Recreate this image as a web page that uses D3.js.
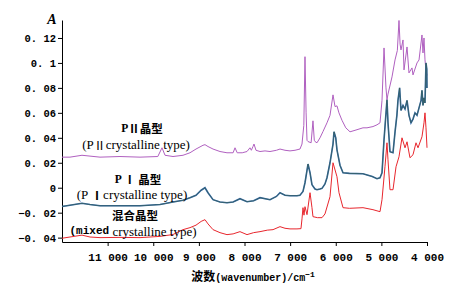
<!DOCTYPE html>
<html>
<head>
<meta charset="utf-8">
<script src="https://cdn.jsdelivr.net/npm/d3@7"></script>
<style>
  body { margin: 0; background: #fff; }
  .axis path, .axis line { stroke: #000; stroke-width: 1; }
  .axis text { font-family: "Liberation Mono", monospace; font-weight: bold; font-size: 11px; fill: #000; }
  .y.axis text { font-size: 10.5px; }
</style>
</head>
<body>
<div id="chart"></div>
<script>
// tick values
var xTicks = [11000, 10000, 9000, 8000, 7000, 6000, 5000, 4000];
var yTicks = [-0.04, -0.02, 0, 0.02, 0.04, 0.06, 0.08, 0.1, 0.12];

// P II crystalline type (purple)
var piiWavenumber = [12000, 11825, 11562, 11167, 10729, 10290, 9900, 9808, 9742, 9567, 9348, 9195, 9063, 8910, 8866, 8800, 8690, 8537, 8384, 8250, 8208, 8160, 8050, 7945, 7880, 7850, 7814, 7792, 7748, 7660, 7551, 7441, 7300, 7222, 7112, 7003, 6893, 6784, 6740, 6700, 6674, 6650, 6630, 6608, 6540, 6499, 6470, 6455, 6411, 6345, 6280, 6192, 6126, 6060, 6016, 5973, 5930, 5863, 5780, 5688, 5578, 5403, 5315, 5184, 5096, 5030, 4986, 4942, 4899, 4877, 4855, 4767, 4701, 4650, 4614, 4590, 4570, 4526, 4504, 4438, 4395, 4329, 4307, 4219, 4175, 4110, 4088, 4066, 4044, 4022, 4000];
var piiAbsorbance = [0.0245, 0.0245, 0.026, 0.0245, 0.025, 0.0245, 0.025, 0.032, 0.026, 0.025, 0.026, 0.028, 0.031, 0.034, 0.0345, 0.033, 0.031, 0.029, 0.028, 0.028, 0.032, 0.028, 0.028, 0.029, 0.032, 0.030, 0.033, 0.035, 0.030, 0.029, 0.0295, 0.029, 0.030, 0.031, 0.030, 0.0295, 0.030, 0.031, 0.035, 0.05, 0.105, 0.06, 0.038, 0.037, 0.036, 0.0536, 0.038, 0.037, 0.036, 0.040, 0.045, 0.052, 0.058, 0.0744, 0.065, 0.0656, 0.060, 0.054, 0.048, 0.0448, 0.046, 0.048, 0.048, 0.049, 0.0504, 0.052, 0.07, 0.112, 0.08, 0.0704, 0.075, 0.0888, 0.1024, 0.11, 0.134, 0.115, 0.1104, 0.1184, 0.0944, 0.1128, 0.092, 0.096, 0.0904, 0.1, 0.1024, 0.1224, 0.108, 0.12, 0.1024, 0.094, 0.09];

// P I crystalline type (blue / green)
var piWavenumber = [12000, 11825, 11562, 11386, 11167, 10729, 10290, 9852, 9567, 9348, 9195, 9063, 8950, 8866, 8800, 8690, 8537, 8384, 8250, 8099, 7945, 7800, 7660, 7441, 7300, 7222, 7112, 7003, 6850, 6784, 6718, 6674, 6608, 6564, 6521, 6455, 6411, 6345, 6301, 6236, 6192, 6126, 6060, 6038, 6000, 5973, 5907, 5841, 5700, 5403, 5200, 5096, 5030, 4986, 4942, 4877, 4855, 4811, 4745, 4700, 4660, 4636, 4600, 4570, 4526, 4482, 4438, 4395, 4351, 4307, 4263, 4219, 4175, 4130, 4110, 4088, 4066, 4044, 4022, 4005, 4000];
var piAbsorbance = [-0.015, -0.014, -0.0125, -0.0135, -0.0145, -0.0145, -0.0145, -0.0135, -0.0115, -0.010, -0.008, -0.006, -0.002, 0.000, -0.004, -0.0096, -0.0115, -0.012, -0.0115, -0.0088, -0.0112, -0.0105, -0.008, -0.0096, -0.007, -0.004, -0.006, -0.0064, -0.0064, -0.006, -0.003, 0.004, 0.019, 0.012, 0.0024, -0.001, -0.0016, -0.001, -0.0005, 0.003, 0.008, 0.02, 0.035, 0.0448, 0.04, 0.0304, 0.018, 0.012, 0.0115, 0.0112, 0.009, 0.0072, 0.008, 0.012, 0.0384, 0.0704, 0.052, 0.0288, 0.028, 0.045, 0.058, 0.07, 0.08, 0.062, 0.066, 0.063, 0.07, 0.058, 0.052, 0.055, 0.06, 0.058, 0.064, 0.07, 0.078, 0.066, 0.072, 0.068, 0.1, 0.095, 0.08];

// mixed crystalline type (red)
var mixWavenumber = [12000, 11825, 11562, 11386, 11167, 10729, 10290, 9852, 9567, 9348, 9195, 9063, 8950, 8866, 8800, 8690, 8537, 8384, 8250, 8099, 7945, 7800, 7660, 7500, 7375, 7222, 7112, 7003, 6850, 6762, 6740, 6718, 6696, 6674, 6630, 6564, 6521, 6499, 6400, 6301, 6236, 6126, 6060, 5973, 5929, 5841, 5700, 5403, 5184, 5030, 4986, 4921, 4877, 4855, 4811, 4745, 4679, 4614, 4548, 4482, 4438, 4373, 4307, 4241, 4197, 4110, 4066, 4044, 4022, 4000];
var mixAbsorbance = [-0.0405, -0.0395, -0.038, -0.0395, -0.040, -0.0398, -0.040, -0.039, -0.0375, -0.0336, -0.032, -0.030, -0.027, -0.0256, -0.029, -0.0336, -0.036, -0.0376, -0.037, -0.0352, -0.0376, -0.036, -0.0352, -0.034, -0.0336, -0.0312, -0.0325, -0.033, -0.033, -0.0328, -0.025, -0.016, -0.022, -0.0152, -0.0216, -0.004, -0.016, -0.0232, -0.024, -0.024, -0.021, -0.0072, 0.02, 0.0088, -0.004, -0.016, -0.0165, -0.016, -0.0176, -0.0192, -0.0096, 0.0168, 0.036, 0.0224, -0.0016, -0.0016, 0.0168, 0.0248, 0.04, 0.032, 0.0368, 0.024, 0.0264, 0.036, 0.032, 0.0408, 0.052, 0.06, 0.048, 0.032];

var W = 463, H = 287;
var margin = {top: 20, right: 36, bottom: 45, left: 62};

var svg = d3.select("#chart").append("svg")
    .attr("width", W)
    .attr("height", H);

var x = d3.scaleLinear().domain([12000, 4000]).range([margin.left, W - margin.right]);
var y = d3.scaleLinear().domain([-0.0435, 0.1344]).range([H - margin.bottom, margin.top]);

var loc = d3.formatLocale({decimal: ".", thousands: " ", grouping: [3], currency: ["", ""], minus: "\u2212"});
var xFmt = loc.format(",d");
var yFmt = function(v) {
    if (v === 0) return "0";
    return d3.format(".2~f")(v).replace("-", "\u2212").replace(".", ". ");
};

// axes
svg.append("g")
    .attr("class", "x axis")
    .attr("transform", "translate(0," + (H - margin.bottom) + ")")
    .call(d3.axisBottom(x).tickValues(xTicks).tickFormat(xFmt).tickSize(4).tickSizeOuter(0).tickPadding(7));

svg.append("g")
    .attr("class", "y axis")
    .attr("transform", "translate(" + margin.left + ",0)")
    .call(d3.axisLeft(y).tickValues(yTicks).tickFormat(yFmt).tickSize(4).tickSizeOuter(0).tickPadding(2));

// curves
function series(wn, ab) {
    return wn.map(function(d, i) { return [d, ab[i]]; });
}
var line = d3.line()
    .x(function(d) { return x(d[0]); })
    .y(function(d) { return y(d[1]); });

svg.append("path").datum(series(piiWavenumber, piiAbsorbance))
    .attr("d", line).attr("fill", "none").attr("stroke", "#b060c0").attr("stroke-width", 1);

svg.append("path").datum(series(piWavenumber, piAbsorbance))
    .attr("d", line).attr("fill", "none").attr("stroke", "#2f66a8").attr("stroke-width", 1.6);
svg.append("path").datum(series(piWavenumber, piAbsorbance))
    .attr("d", line).attr("fill", "none").attr("stroke", "#3d5e3a").attr("stroke-width", 0.7).attr("opacity", 0.75);

svg.append("path").datum(series(mixWavenumber, mixAbsorbance))
    .attr("d", line).attr("fill", "none").attr("stroke", "#e8262d").attr("stroke-width", 1);

// labels
var cjk = "'Noto Sans CJK SC',sans-serif";
var serif = "'Liberation Serif',serif";
var mono = "'Liberation Mono',monospace";

function label(cx, cy, bold, size) {
    return svg.append("text")
        .attr("x", cx).attr("y", cy)
        .attr("text-anchor", "middle")
        .attr("dominant-baseline", "central")
        .style("font-family", serif)
        .style("font-size", size + "px")
        .style("font-weight", bold ? "bold" : "normal");
}

var a = label(142, 128, true, 11.5);
a.append("tspan").text("P");
a.append("tspan").style("font-family", cjk).text("\u2161晶型");

var b = label(136, 144, false, 13);
b.append("tspan").text("(P");
b.append("tspan").style("font-family", cjk).style("font-size", "12px").text("\u2161");
b.append("tspan").text("crystalline type)");

var c = label(138, 179, true, 11.5);
c.append("tspan").text("P ");
c.append("tspan").style("font-family", cjk).text("\u2160 晶型");

var d = label(132, 194, false, 13);
d.append("tspan").text("(P ");
d.append("tspan").style("font-family", cjk).style("font-weight", "bold").style("font-size", "12px").text("\u2160");
d.append("tspan").text("crystalline type)");

var e = label(135, 215, true, 11.5);
e.append("tspan").style("font-family", cjk).text("混合晶型");

var f = label(133, 231, false, 13);
f.append("tspan").style("font-family", mono).style("font-weight", "bold").style("font-size", "11px").text("(mixed");
f.append("tspan").text(" crystalline type)");

// axis titles
svg.append("text")
    .attr("x", 52).attr("y", 19)
    .attr("text-anchor", "middle")
    .attr("dominant-baseline", "central")
    .style("font-family", serif)
    .style("font-style", "italic")
    .style("font-weight", "bold")
    .style("font-size", "14px")
    .text("A");

var xt = svg.append("text")
    .attr("x", 253).attr("y", 281)
    .attr("text-anchor", "middle")
    .style("font-weight", "bold")
    .style("font-size", "12px");
xt.append("tspan").style("font-family", cjk).text("波数");
xt.append("tspan").style("font-family", mono).style("font-size", "10px").text("(wavenumber)/cm");
xt.append("tspan").style("font-family", mono).style("font-size", "8px").attr("dy", -4).text("\u22121");
</script>
</body>
</html>
